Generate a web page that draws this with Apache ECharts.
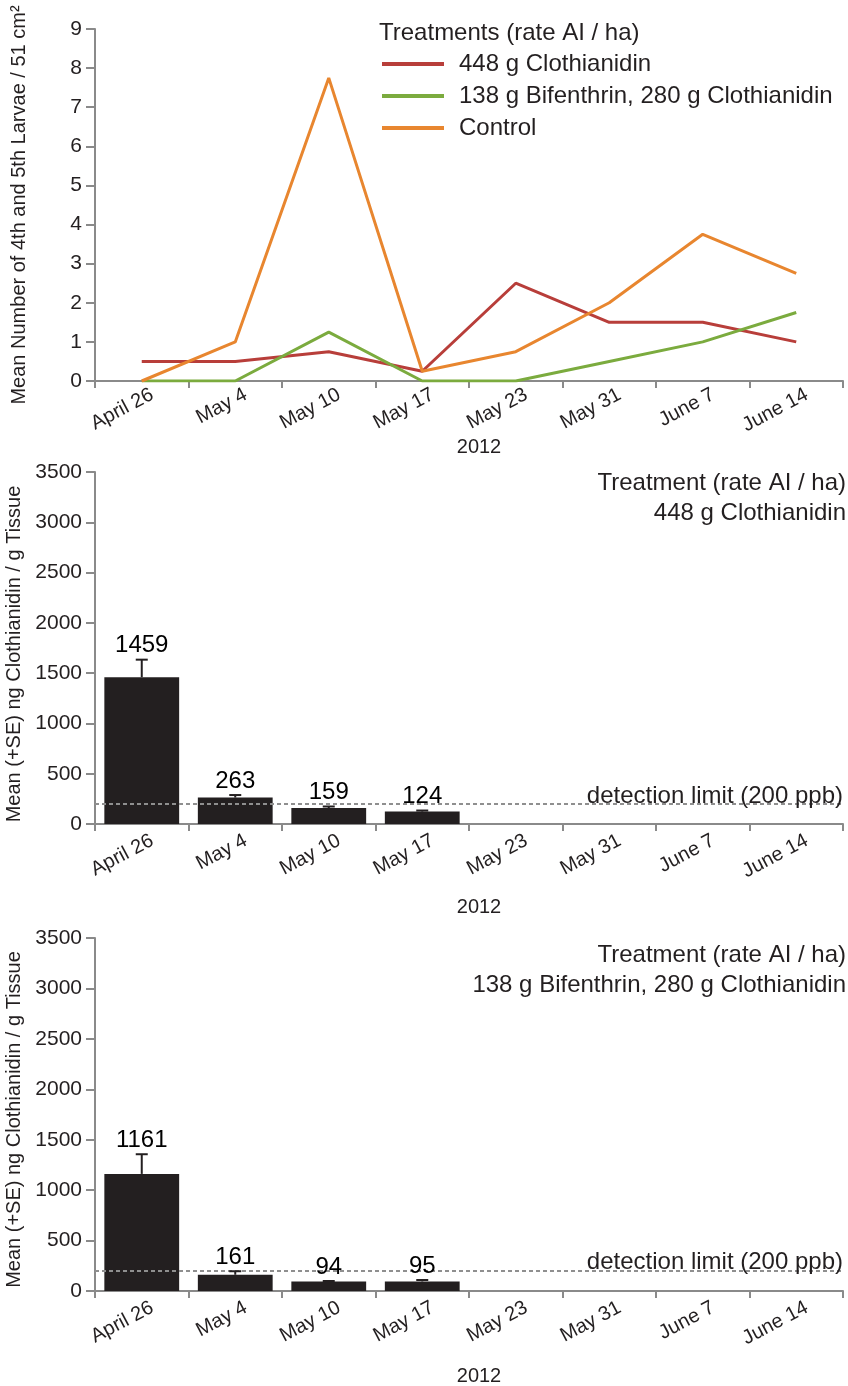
<!DOCTYPE html>
<html>
<head>
<meta charset="utf-8">
<title>Larvae and clothianidin residues, 2012</title>
<script src="https://cdn.jsdelivr.net/npm/echarts@6/dist/echarts.min.js"></script>
<style>
  html, body { margin: 0; padding: 0; background: #ffffff; }
  #chart { width: 848px; height: 1386px; }
</style>
</head>
<body>
<div id="chart"></div>
<script>
// Sampling dates (2012)
const categories = ['April 26', 'May 4', 'May 10', 'May 17', 'May 23', 'May 31', 'June 7', 'June 14'];

// Mean number of 4th and 5th instar larvae per 51 cm²
const clothianidin448 = [0.5, 0.5, 0.75, 0.25, 2.5, 1.5, 1.5, 1.0];
const bifenthrinClothianidin = [0, 0, 1.25, 0, 0, 0.5, 1.0, 1.75];
const control = [0, 1, 7.75, 0.25, 0.75, 2, 3.75, 2.75];

// Clothianidin residues (ng / g tissue), mean and standard error
const residue448Mean = [1459, 263, 159, 124];
const residue448SE = [175, 25, 15, 10];
const residueBifMean = [1161, 161, 94, 95];
const residueBifSE = [195, 35, 5, 14];

const detectionLimit = 200;

const seriesNames = ['448 g Clothianidin', '138 g Bifenthrin, 280 g Clothianidin', 'Control'];
const seriesColors = ['#b83e3a', '#7bab3e', '#e8862f'];

const FONT = '"Liberation Sans", Arial, Helvetica, sans-serif';
const TEXT = '#231f20';
const AXIS = '#8a8a8a';

const chart = echarts.init(document.getElementById('chart'), null, { renderer: 'canvas' });

function xAxisFor(gridIndex, margin, nameGap) {
  return {
    type: 'category',
    gridIndex: gridIndex,
    data: categories,
    boundaryGap: true,
    name: '2012',
    nameLocation: 'middle',
    nameGap: nameGap,
    nameMoveOverlap: false,
    nameTextStyle: { fontFamily: FONT, fontSize: 20, color: TEXT, padding: [0, 0, 0, 20], verticalAlign: 'top' },
    axisLine: { show: true, lineStyle: { color: AXIS, width: 2 } },
    axisTick: { show: true, alignWithLabel: false, length: 7, lineStyle: { color: AXIS, width: 2 } },
    axisLabel: { interval: 0, rotate: 28, margin: margin, padding: [0, -12, 0, 0],
      fontFamily: FONT, fontSize: 20, color: TEXT },
    splitLine: { show: false }
  };
}

function yAxisFor(gridIndex, max, interval, name, namePadding) {
  return {
    type: 'value',
    gridIndex: gridIndex,
    min: 0,
    max: max,
    interval: interval,
    name: name,
    nameLocation: 'middle',
    nameGap: 66,
    nameTextStyle: { fontFamily: FONT, fontSize: 20, color: TEXT, padding: namePadding },
    axisLine: { show: true, lineStyle: { color: AXIS, width: 2 } },
    axisTick: { show: true, length: 9, lineStyle: { color: AXIS, width: 2 } },
    axisLabel: { margin: 13, fontFamily: FONT, fontSize: 21, color: TEXT,
      formatter: function (v) { return String(v); } },
    splitLine: { show: false }
  };
}

// Error bar with the mean written above it
function errorBarRenderer(params, api) {
  const idx = api.value(0);
  const mean = api.value(1);
  const se = api.value(2);
  const base = api.coord([idx, mean]);
  const top = api.coord([idx, mean + se]);
  const cap = 6;
  return {
    type: 'group',
    children: [
      { type: 'line', shape: { x1: base[0], y1: base[1], x2: top[0], y2: top[1] },
        style: { stroke: TEXT, lineWidth: 2 } },
      { type: 'line', shape: { x1: top[0] - cap, y1: top[1], x2: top[0] + cap, y2: top[1] },
        style: { stroke: TEXT, lineWidth: 2 } },
      { type: 'text', style: { text: String(mean), x: top[0], y: top[1] - 2,
        align: 'center', verticalAlign: 'bottom', font: '24px ' + FONT, fill: '#000000' } }
    ]
  };
}

function residueSeries(gridIndex, means, ses) {
  return [
    {
      type: 'bar',
      xAxisIndex: gridIndex,
      yAxisIndex: gridIndex,
      data: means,
      barWidth: '80%',
      itemStyle: { color: TEXT },
      silent: true,
      markLine: {
        silent: true,
        symbol: 'none',
        lineStyle: { color: '#8f8f8f', width: 2, type: [4, 3] },
        label: {
          show: true,
          position: 'insideEndTop',
          formatter: 'detection limit (200 ppb)',
          fontFamily: FONT,
          fontSize: 24,
          color: TEXT,
          distance: [0, -4]
        },
        data: [{ yAxis: detectionLimit }]
      }
    },
    {
      type: 'custom',
      xAxisIndex: gridIndex,
      yAxisIndex: gridIndex,
      renderItem: errorBarRenderer,
      data: means.map(function (m, i) { return [i, m, ses[i]]; }),
      z: 5,
      silent: true
    }
  ];
}

function rightText(text, top) {
  return { type: 'text', right: 2, top: top, silent: true,
    style: { text: text, font: '24px ' + FONT, fill: TEXT } };
}

const option = {
  backgroundColor: '#ffffff',
  animation: false,
  color: seriesColors,
  textStyle: { fontFamily: FONT },
  grid: [
    { left: 95, right: 5, top: 29, height: 352, outerBoundsMode: 'none', containLabel: false },
    { left: 95, right: 5, top: 472, height: 352, outerBoundsMode: 'none', containLabel: false },
    { left: 95, right: 5, top: 938, height: 353, outerBoundsMode: 'none', containLabel: false }
  ],
  legend: {
    data: seriesNames,
    orient: 'vertical',
    left: 382,
    top: 52,
    padding: 0,
    itemWidth: 62,
    itemHeight: 4,
    itemGap: 8,
    icon: 'rect',
    textStyle: { fontFamily: FONT, fontSize: 24, color: TEXT, padding: [0, 0, 0, 10] }
  },
  graphic: [
    { type: 'text', left: 379, top: 21, silent: true,
      style: { text: 'Treatments (rate AI / ha)', font: '24px ' + FONT, fill: TEXT } },
    rightText('Treatment (rate AI / ha)', 471),
    rightText('448 g Clothianidin', 501),
    rightText('Treatment (rate AI / ha)', 943),
    rightText('138 g Bifenthrin, 280 g Clothianidin', 973)
  ],
  xAxis: [
    xAxisFor(0, 18, 56),
    xAxisFor(1, 21, 73),
    xAxisFor(2, 21, 75)
  ],
  yAxis: [
    yAxisFor(0, 9, 1, 'Mean Number of 4th and 5th Larvae / 51 cm²', [0, 0, 0, 0]),
    yAxisFor(1, 3500, 500, 'Mean (+SE) ng Clothianidin / g Tissue', [0, 12, 0, 0]),
    yAxisFor(2, 3500, 500, 'Mean (+SE) ng Clothianidin / g Tissue', [0, 10, 0, 0])
  ],
  series: [
    { name: seriesNames[0], type: 'line', xAxisIndex: 0, yAxisIndex: 0, data: clothianidin448,
      showSymbol: false, symbol: 'none', lineStyle: { width: 3, color: seriesColors[0] }, itemStyle: { color: seriesColors[0] } },
    { name: seriesNames[1], type: 'line', xAxisIndex: 0, yAxisIndex: 0, data: bifenthrinClothianidin,
      showSymbol: false, symbol: 'none', lineStyle: { width: 3, color: seriesColors[1] }, itemStyle: { color: seriesColors[1] } },
    { name: seriesNames[2], type: 'line', xAxisIndex: 0, yAxisIndex: 0, data: control,
      showSymbol: false, symbol: 'none', lineStyle: { width: 3, color: seriesColors[2] }, itemStyle: { color: seriesColors[2] } }
  ]
    .concat(residueSeries(1, residue448Mean, residue448SE))
    .concat(residueSeries(2, residueBifMean, residueBifSE))
};

chart.setOption(option);
</script>
</body>
</html>
